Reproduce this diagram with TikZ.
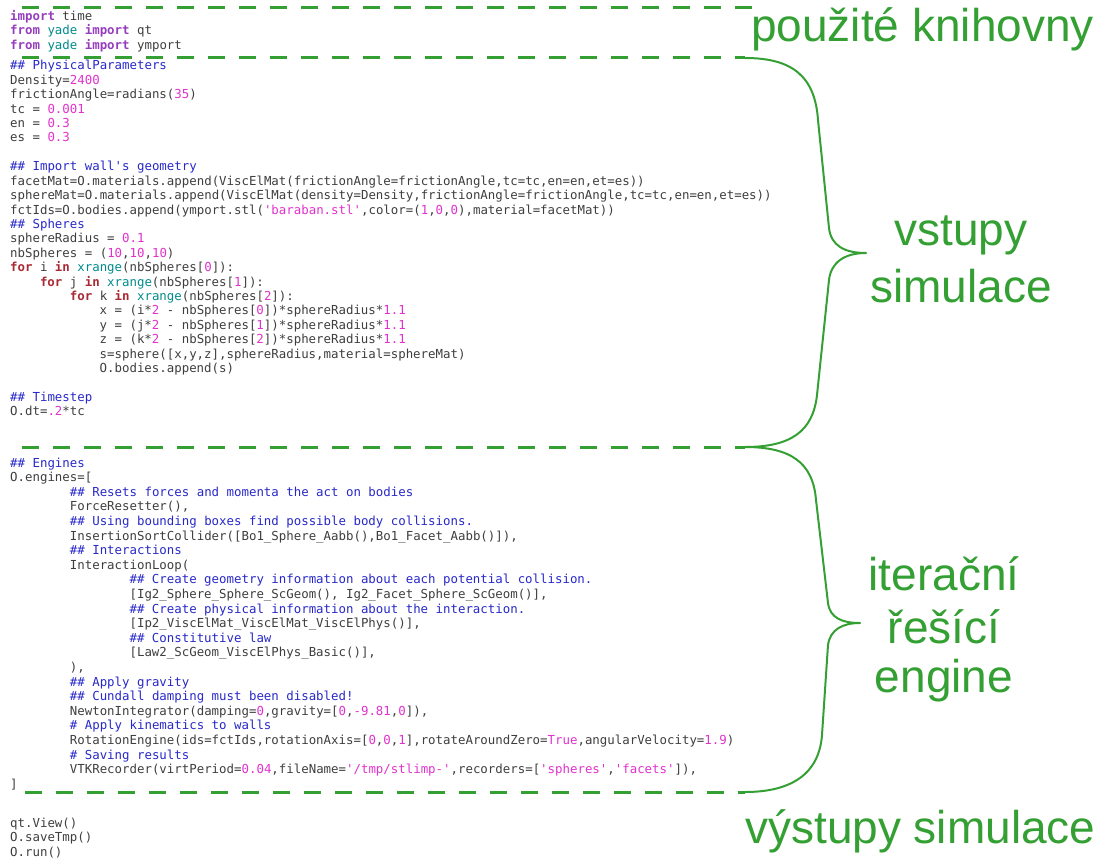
\documentclass[tikz,border=0pt]{standalone}
\usepackage{fontspec}
\setmonofont{DejaVu Sans Mono}
\newfontfamily\notefont{Liberation Sans}
\usepackage{tikz}
\usetikzlibrary{calc}
\definecolor{annot}{RGB}{52,160,52}
\definecolor{codetext}{RGB}{62,62,62}
\definecolor{pykwc}{RGB}{150,60,190}
\definecolor{pyforc}{RGB}{170,40,50}
\definecolor{pybic}{RGB}{0,138,140}
\definecolor{pycmc}{RGB}{40,40,200}
\definecolor{pynumc}{RGB}{225,50,205}
\def\pykw#1{{\color{pykwc}\bfseries #1}}
\def\pyfor#1{{\color{pyforc}\bfseries #1}}
\def\pybi#1{{\color{pybic}#1}}
\def\pycm#1{{\color{pycmc}#1}}
\def\pynum#1{{\color{pynumc}#1}}
\frenchspacing

\begin{document}
\begin{tikzpicture}[x=1pt,y=-1pt,
  pyline/.style={anchor=base west, inner sep=0pt, text=codetext, font=\ttfamily\fontsize{12.4pt}{14.5pt}\selectfont},
  note/.style={anchor=base, inner sep=0pt, text=annot, font=\notefont\fontsize{46pt}{55pt}\selectfont},
  cutline/.style={annot, line width=3pt, dash pattern=on 17pt off 14pt},
  bracepath/.style={annot, line width=2pt, line join=round}]
	%%%%% START %%%%%
	\useasboundingbox (0,0) rectangle (1102,861);
	
	% libraries
	\node[pyline] (l01) at (10,20.5) {\pykw{import} time};
	\node[pyline] (l02) at (10,35) {\pykw{from} \pybi{yade} \pykw{import} qt};
	\node[pyline] (l03) at (10,49.5) {\pykw{from} \pybi{yade} \pykw{import} ymport};
	
	% inputs
	\node[pyline] (l04) at (10,70) {\pycm{\#\# PhysicalParameters}};
	\node[pyline] (l05) at (10,84.4) {Density=\pynum{2400}};
	\node[pyline] (l06) at (10,98.8) {frictionAngle=radians(\pynum{35})};
	\node[pyline] (l07) at (10,113.2) {tc = \pynum{0.001}};
	\node[pyline] (l08) at (10,127.6) {en = \pynum{0.3}};
	\node[pyline] (l09) at (10,142) {es = \pynum{0.3}};
	\node[pyline] (l11) at (10,170.8) {\pycm{\#\# Import wall's geometry}};
	\node[pyline] (l12) at (10,185.2) {facetMat=O.materials.append(ViscElMat(frictionAngle=frictionAngle,tc=tc,en=en,et=es))};
	\node[pyline] (l13) at (10,199.6) {sphereMat=O.materials.append(ViscElMat(density=Density,frictionAngle=frictionAngle,tc=tc,en=en,et=es))};
	\node[pyline] (l14) at (10,214) {fctIds=O.bodies.append(ymport.stl(\pynum{'baraban.stl'},color=(\pynum{1},\pynum{0},\pynum{0}),material=facetMat))};
	\node[pyline] (l15) at (10,228.4) {\pycm{\#\# Spheres}};
	\node[pyline] (l16) at (10,242.8) {sphereRadius = \pynum{0.1}};
	\node[pyline] (l17) at (10,257.2) {nbSpheres = (\pynum{10},\pynum{10},\pynum{10})};
	\node[pyline] (l18) at (10,271.6) {\pyfor{for} i \pyfor{in} \pybi{xrange}(nbSpheres[\pynum{0}]):};
	\node[pyline] (l19) at (39.8,286) {\pyfor{for} j \pyfor{in} \pybi{xrange}(nbSpheres[\pynum{1}]):};
	\node[pyline] (l20) at (69.7,300.4) {\pyfor{for} k \pyfor{in} \pybi{xrange}(nbSpheres[\pynum{2}]):};
	\node[pyline] (l21) at (99.5,314.8) {x = (i*\pynum{2} - nbSpheres[\pynum{0}])*sphereRadius*\pynum{1.1}};
	\node[pyline] (l22) at (99.5,329.2) {y = (j*\pynum{2} - nbSpheres[\pynum{1}])*sphereRadius*\pynum{1.1}};
	\node[pyline] (l23) at (99.5,343.6) {z = (k*\pynum{2} - nbSpheres[\pynum{2}])*sphereRadius*\pynum{1.1}};
	\node[pyline] (l24) at (99.5,358) {s=sphere([x,y,z],sphereRadius,material=sphereMat)};
	\node[pyline] (l25) at (99.5,372.4) {O.bodies.append(s)};
	\node[pyline] (l27) at (10,401.2) {\pycm{\#\# Timestep}};
	\node[pyline] (l28) at (10,415.6) {O.dt=\pynum{.2}*tc};
	
	% engines
	\node[pyline] (e01) at (10,467) {\pycm{\#\# Engines}};
	\node[pyline] (e02) at (10,481.6) {O.engines=[};
	\node[pyline] (e03) at (69.7,496.2) {\pycm{\#\# Resets forces and momenta the act on bodies}};
	\node[pyline] (e04) at (69.7,510.8) {ForceResetter(),};
	\node[pyline] (e05) at (69.7,525.4) {\pycm{\#\# Using bounding boxes find possible body collisions.}};
	\node[pyline] (e06) at (69.7,540) {InsertionSortCollider([Bo1\_Sphere\_Aabb(),Bo1\_Facet\_Aabb()]),};
	\node[pyline] (e07) at (69.7,554.6) {\pycm{\#\# Interactions}};
	\node[pyline] (e08) at (69.7,569.2) {InteractionLoop(};
	\node[pyline] (e09) at (129.4,583.8) {\pycm{\#\# Create geometry information about each potential collision.}};
	\node[pyline] (e10) at (129.4,598.4) {[Ig2\_Sphere\_Sphere\_ScGeom(), Ig2\_Facet\_Sphere\_ScGeom()],};
	\node[pyline] (e11) at (129.4,613) {\pycm{\#\# Create physical information about the interaction.}};
	\node[pyline] (e12) at (129.4,627.6) {[Ip2\_ViscElMat\_ViscElMat\_ViscElPhys()],};
	\node[pyline] (e13) at (129.4,642.2) {\pycm{\#\# Constitutive law}};
	\node[pyline] (e14) at (129.4,656.8) {[Law2\_ScGeom\_ViscElPhys\_Basic()],};
	\node[pyline] (e15) at (69.7,671.4) {),};
	\node[pyline] (e16) at (69.7,686) {\pycm{\#\# Apply gravity}};
	\node[pyline] (e17) at (69.7,700.6) {\pycm{\#\# Cundall damping must been disabled!}};
	\node[pyline] (e18) at (69.7,715.2) {NewtonIntegrator(damping=\pynum{0},gravity=[\pynum{0},\pynum{-9.81},\pynum{0}]),};
	\node[pyline] (e19) at (69.7,729.8) {\pycm{\# Apply kinematics to walls}};
	\node[pyline] (e20) at (69.7,744.4) {RotationEngine(ids=fctIds,rotationAxis=[\pynum{0},\pynum{0},\pynum{1}],rotateAroundZero=\pynum{True},angularVelocity=\pynum{1.9})};
	\node[pyline] (e21) at (69.7,759) {\pycm{\# Saving results}};
	\node[pyline] (e22) at (69.7,773.6) {VTKRecorder(virtPeriod=\pynum{0.04},fileName=\pynum{'/tmp/stlimp-'},recorders=[\pynum{'spheres'},\pynum{'facets'}]),};
	\node[pyline] (e23) at (10,788.2) {]};
	
	% outputs
	\node[pyline] (o01) at (10,827) {qt.View()};
	\node[pyline] (o02) at (10,841.5) {O.saveTmp()};
	\node[pyline] (o03) at (10,856) {O.run()};
	
	% dashed separators
	\draw[cutline] (22,8) -- (752,8);
	\draw[cutline] (22,58) -- (745,58);
	\draw[cutline] (22,447) -- (745,447);
	\draw[cutline] (25,792) -- (745,792);
	
	% braces
	\draw[bracepath] (745,58) .. controls (792,58) and (815,76) .. (818,120) -- (829,228) .. controls (831,246) and (845,253) .. (866,253) .. controls (845,253) and (831,262) .. (829,280) -- (817,395) .. controls (813,432) and (790,447) .. (745,447);
	\draw[bracepath] (745,447) .. controls (790,447) and (813,462) .. (816,500) -- (828,603) .. controls (830,618) and (842,623) .. (860,623) .. controls (842,623) and (830,630) .. (828,645) -- (822,735) .. controls (819,775) and (790,792) .. (745,792);
	
	% annotations
	\node[note, anchor=base west] (lib) at (751,42) {použité knihovny};
	\node[note] (in1) at (961,245) {vstupy};
	\node[note] (in2) at (961,302) {simulace};
	\node[note] (it1) at (944,590) {iterační};
	\node[note] (it2) at (944,643) {řešící};
	\node[note] (it3) at (944,692) {engine};
	\node[note, anchor=base west] (out) at (745,843) {výstupy simulace};
	
	%%%%% END %%%%%
\end{tikzpicture}
\end{document}
